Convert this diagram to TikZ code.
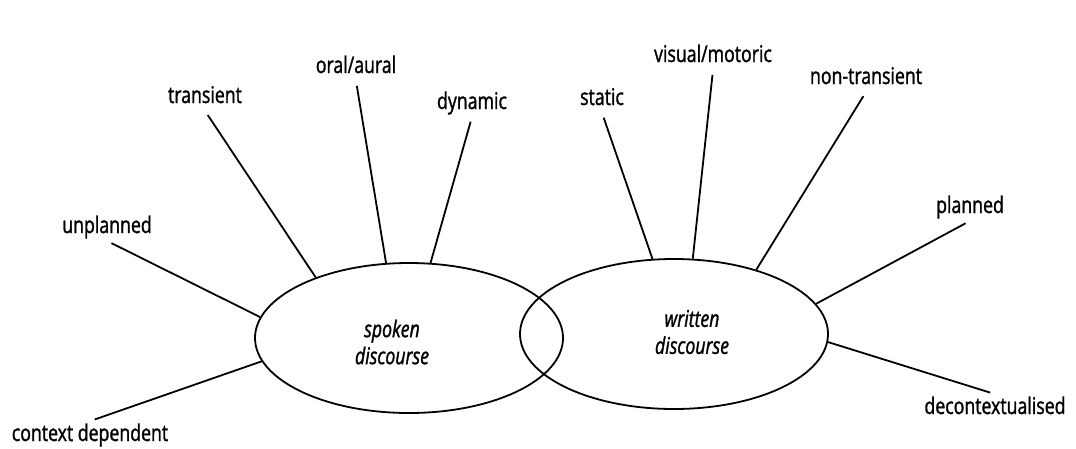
\documentclass[tikz,border=0pt]{standalone}
\usepackage{fontspec}
\setmainfont{Open Sans}[FakeStretch=0.77,FakeBold=1.3]
\usetikzlibrary{shapes.geometric}

\begin{document}
\begin{tikzpicture}[x=1pt,y=-1pt,line width=1.8pt,
	feature/.style={font=\fontsize{23}{27}\selectfont,text height=17pt,text depth=5pt,inner sep=2pt},
	medium/.style={ellipse,draw,minimum width=308pt,minimum height=150pt,inner sep=0pt},
	mediumtext/.style={font=\fontsize{23}{27}\selectfont\itshape,align=center}]
	\useasboundingbox (0,0) rectangle (1076,448);
	\node[medium] (spoken) at (409,338) {};
	\node[medium] (written) at (674,334) {};
	\node[mediumtext] at (392,342) {spoken\\discourse};
	\node[mediumtext] at (692,332) {written\\discourse};

	\node[feature] (unplanned) at (107,227) {unplanned};
	\node[feature] (transient) at (205,97) {transient};
	\node[feature] (oral) at (356,67) {oral/aural};
	\node[feature] (dynamic) at (472,103) {dynamic};
	\node[feature] (context) at (90,435) {context dependent};
	\node[feature] (static) at (602,99) {static};
	\node[feature] (visual) at (713,56) {visual/motoric};
	\node[feature] (nontransient) at (866,78) {non-transient};
	\node[feature] (planned) at (970,207) {planned};
	\node[feature] (decontext) at (995,408) {decontextualised};

	\draw[shorten <=5pt] (unplanned.south) -- (spoken.172.6);
	\draw[shorten <=5pt] (transient.south) -- (spoken.147);
	\draw[shorten <=5pt] (oral.south) -- (spoken.107.7);
	\draw[shorten <=5pt] (dynamic.south) -- (spoken.74.9);
	\draw[shorten <=5pt] (context.north) -- (spoken.-171.8);
	\draw[shorten <=5pt] (static.south) -- (written.106.8);
	\draw[shorten <=5pt] (visual.south) -- (written.76.3);
	\draw[shorten <=5pt] (nontransient.south) -- (written.38.2);
	\draw[shorten <=5pt] (planned.south) -- (written.12.1);
	\draw[shorten <=5pt] (decontext.north) -- (written.-3.8);
\end{tikzpicture}
\end{document}
